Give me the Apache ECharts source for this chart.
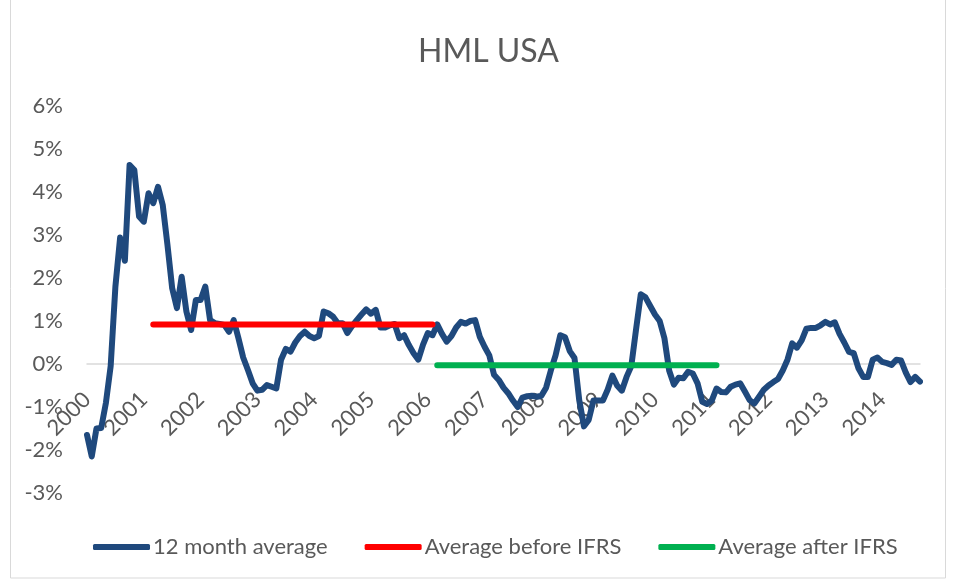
<!DOCTYPE html>
<html>
<head>
<meta charset="utf-8">
<title>HML USA</title>
<script src="https://cdn.jsdelivr.net/npm/echarts@6/dist/echarts.min.js"></script>
<style>
  html, body { margin: 0; padding: 0; background: #fff; }
  #chart { width: 956px; height: 581px; }
</style>
</head>
<body>
<div id="chart"></div>
<script>
// 12 month average of HML (USA), in %, one point per month starting Jan 2000
const hmlAverage = [
  -1.65, -2.15, -1.50, -1.49, -0.90, -0.05, 1.80, 2.94, 2.40, 4.63,
  4.51, 3.43, 3.31, 3.97, 3.74, 4.12, 3.70, 2.77, 1.76, 1.30,
  2.03, 1.22, 0.79, 1.49, 1.49, 1.80, 1.02, 0.95, 0.93, 0.91,
  0.75, 1.02, 0.60, 0.15, -0.14, -0.45, -0.62, -0.60, -0.49, -0.53,
  -0.57, 0.10, 0.35, 0.29, 0.50, 0.65, 0.75, 0.65, 0.60, 0.65,
  1.22, 1.18, 1.10, 0.95, 0.95, 0.72, 0.88, 1.02, 1.15, 1.27,
  1.17, 1.26, 0.85, 0.85, 0.90, 0.93, 0.60, 0.67, 0.44, 0.25,
  0.10, 0.45, 0.72, 0.67, 0.92, 0.70, 0.52, 0.65, 0.85, 0.98,
  0.94, 1.00, 1.02, 0.63, 0.40, 0.20, -0.25, -0.37, -0.55, -0.68,
  -0.85, -1.00, -0.78, -0.75, -0.74, -0.76, -0.74, -0.55, -0.15, 0.20,
  0.67, 0.62, 0.30, 0.14, -0.84, -1.45, -1.30, -0.85, -0.85, -0.85,
  -0.60, -0.27, -0.50, -0.62, -0.30, -0.05, 0.80, 1.62, 1.55, 1.35,
  1.15, 1.00, 0.60, -0.15, -0.48, -0.32, -0.33, -0.18, -0.22, -0.45,
  -0.88, -0.93, -0.85, -0.57, -0.65, -0.66, -0.53, -0.48, -0.45, -0.64,
  -0.84, -0.92, -0.76, -0.60, -0.50, -0.42, -0.35, -0.15, 0.10, 0.48,
  0.38, 0.55, 0.82, 0.84, 0.84, 0.90, 0.98, 0.92, 0.97, 0.70,
  0.50, 0.28, 0.25, -0.10, -0.30, -0.30, 0.10, 0.15, 0.05, 0.02,
  -0.02, 0.10, 0.08, -0.20, -0.42, -0.30, -0.41
]

// averages before / after IFRS and the month range they cover (index into hmlAverage)
const avgBeforeIFRS = 0.92
const beforeRange = [14, 73]
const avgAfterIFRS = -0.03
const afterRange = [74, 133]

const years = ['2000', '2001', '2002', '2003', '2004', '2005', '2006', '2007',
  '2008', '2009', '2010', '2011', '2012', '2013', '2014']

const months = []
years.forEach(function(y) {
  for (let m = 1; m <= 12; m++) {
    months.push(y + '-' + (m < 10 ? '0' + m : m))
  }
})
const categories = months.slice(0, hmlAverage.length)

function flatLine(value, range) {
  return categories.map(function(c, i) {
    return (i >= range[0] && i <= range[1]) ? value : '-'
  })
}

const textColor = '#595959'
const font = 'Lato'

const chart = echarts.init(document.getElementById('chart'))
chart.setOption({
  backgroundColor: '#FFFFFF',
  animation: false,
  textStyle: { fontFamily: font },
  // chart area border
  graphic: [{
    type: 'rect',
    silent: true,
    shape: { x: 10.5, y: -1, width: 935, height: 579 },
    style: { fill: 'none', stroke: '#D9D9D9', lineWidth: 1 }
  }],
  title: {
    text: 'HML USA',
    left: 413,
    top: 31,
    textStyle: {
      color: textColor,
      fontSize: 32,
      fontWeight: 'normal',
      fontFamily: font
    }
  },
  legend: {
    left: 88,
    top: 531,
    icon: 'roundRect',
    itemWidth: 57,
    itemHeight: 6,
    itemGap: 37,
    textStyle: {
      color: textColor,
      fontSize: 22,
      fontFamily: font,
      padding: [0, 0, 0, -2]
    },
    data: ['12 month average', 'Average before IFRS', 'Average after IFRS']
  },
  grid: {
    left: 87,
    right: 36,
    top: 106,
    bottom: 88
  },
  xAxis: {
    type: 'category',
    boundaryGap: false,
    data: categories,
    axisLine: {
      onZero: true,
      lineStyle: { color: '#D9D9D9', width: 1.5 }
    },
    axisTick: { show: false },
    splitLine: { show: false },
    axisLabel: {
      interval: 11,
      rotate: 45,
      margin: -97,
      color: textColor,
      fontSize: 22,
      fontFamily: font,
      formatter(v) {
        return v.slice(0, 4)
      }
    }
  },
  yAxis: {
    type: 'value',
    min: -3,
    max: 6,
    interval: 1,
    axisLine: { show: false },
    axisTick: { show: false },
    splitLine: { show: false },
    axisLabel: {
      margin: 24,
      color: textColor,
      fontSize: 22,
      fontFamily: font,
      formatter(v) {
        return v + '%'
      }
    }
  },
  series: [
    {
      name: '12 month average',
      type: 'line',
      data: hmlAverage,
      showSymbol: false,
      symbol: 'none',
      color: '#1F497D',
      lineStyle: { width: 6, color: '#1F497D', cap: 'round', join: 'round' },
      z: 3
    },
    {
      name: 'Average before IFRS',
      type: 'line',
      data: flatLine(avgBeforeIFRS, beforeRange),
      showSymbol: false,
      symbol: 'none',
      color: '#FF0000',
      lineStyle: { width: 6, color: '#FF0000', cap: 'round' },
      z: 4
    },
    {
      name: 'Average after IFRS',
      type: 'line',
      data: flatLine(avgAfterIFRS, afterRange),
      showSymbol: false,
      symbol: 'none',
      color: '#00B050',
      lineStyle: { width: 6, color: '#00B050', cap: 'round' },
      z: 4
    }
  ]
})
</script>
</body>
</html>
